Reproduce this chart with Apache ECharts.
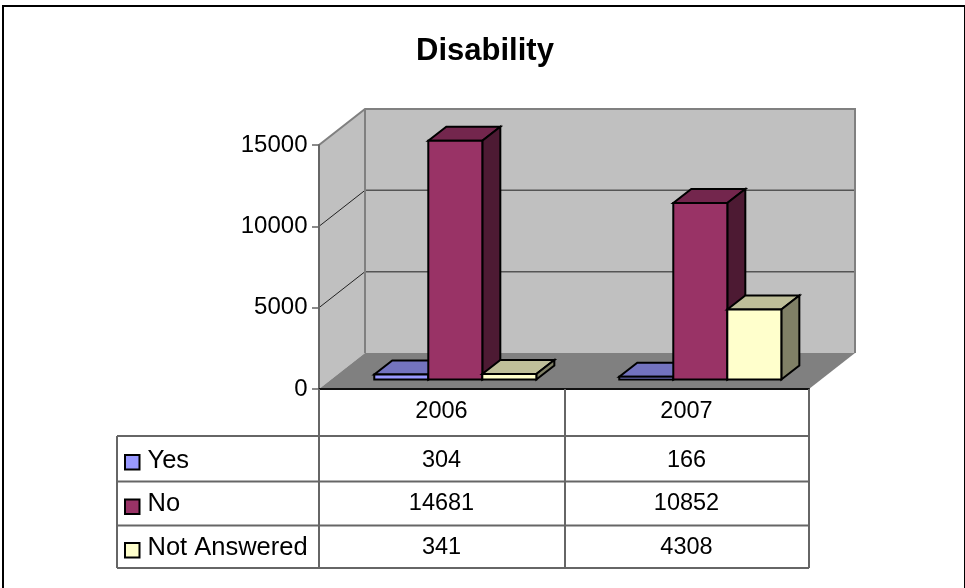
<!DOCTYPE html>
<html>
<head>
<meta charset="utf-8">
<style>
  html, body { margin: 0; padding: 0; background: #fff; }
  #chart { width: 965px; height: 588px; }
</style>
</head>
<body>
<div id="chart"></div>
<script src="https://cdn.jsdelivr.net/npm/echarts@6/dist/echarts.min.js"></script>
<script>
const years = ['2006', '2007']
const names = ['Yes', 'No', 'Not Answered']
const yes = [304, 166]
const no = [14681, 10852]
const notAnswered = [341, 4308]
const ticks = [0, 5000, 10000, 15000]

const fontFamily = '"Liberation Sans", Arial, sans-serif'
const fronts = ['#9999FF', '#993366', '#FFFFCC']
const tops = ['#7373BF', '#73264D', '#BFBF99']
const sides = ['#4D4D80', '#4D1A33', '#808066']

const wallDx = 46
const wallDy = -36
const barDx = 18
const barDy = -14

function poly(points, fill, stroke, lineWidth) {
  return {
    type: 'polygon',
    shape: { points: points },
    style: { fill: fill, stroke: stroke, lineWidth: lineWidth || 0, lineJoin: 'miter' }
  }
}

function line(points, color, width) {
  return {
    type: 'polyline',
    shape: { points: points },
    style: { fill: null, stroke: color, lineWidth: width }
  }
}

// back wall, side wall and floor, hung on the value axis
function renderWalls(params, api) {
  const band = api.size([1, 0])[0]
  const left = api.coord([0, 0])[0] - band / 2
  const right = left + band * years.length
  const y0 = api.coord([0, 0])[1]
  const yTop = api.coord([0, ticks[ticks.length - 1]])[1]
  const children = [
    poly([[left, y0], [left + wallDx, y0 + wallDy], [left + wallDx, yTop + wallDy], [left, yTop]], '#C0C0C0'),
    poly([[left + wallDx, y0 + wallDy], [right + wallDx, y0 + wallDy], [right + wallDx, yTop + wallDy], [left + wallDx, yTop + wallDy]], '#C0C0C0'),
    poly([[left, y0], [left + wallDx, y0 + wallDy], [right + wallDx, y0 + wallDy], [right, y0]], '#808080')
  ]
  for (let i = 1; i < ticks.length - 1; i++) {
    const y = api.coord([0, ticks[i]])[1]
    children.push(line([[left, y], [left + wallDx, y + wallDy]], '#222', 1))
    children.push(line([[left + wallDx, y + wallDy], [right + wallDx, y + wallDy]], '#555', 1.5))
  }
  children.push(line([[left, yTop], [left + wallDx, yTop + wallDy], [right + wallDx, yTop + wallDy], [right + wallDx, y0 + wallDy]], '#808080', 2))
  children.push(line([[left + wallDx, yTop + wallDy], [left + wallDx, y0 + wallDy]], '#808080', 2))
  return { type: 'group', children: children }
}

function renderBar(seriesIndex) {
  return function (params, api) {
    const cat = api.value(0)
    const band = api.size([1, 0])[0]
    const w = band * 0.2205
    const base = api.coord([cat, 0])
    const top = api.coord([cat, api.value(1)])
    const x0 = base[0] + 13.8 + (seriesIndex - 1.5) * w
    const x1 = x0 + w
    const y0 = base[1] - 9.5
    const y1 = top[1] - 9.5
    return {
      type: 'group',
      children: [
        poly([[x0, y1], [x1, y1], [x1 + barDx, y1 + barDy], [x0 + barDx, y1 + barDy]], tops[seriesIndex], '#000', 2),
        poly([[x1, y0], [x1 + barDx, y0 + barDy], [x1 + barDx, y1 + barDy], [x1, y1]], sides[seriesIndex], '#000', 2),
        poly([[x0, y0], [x1, y0], [x1, y1], [x0, y1]], fronts[seriesIndex], '#000', 2)
      ]
    }
  }
}

function barSeries(values, i) {
  return {
    name: names[i],
    type: 'custom',
    z: 3 + i,
    clip: false,
    renderItem: renderBar(i),
    data: values.map((v, c) => [c, v])
  }
}

const chart = echarts.init(document.getElementById('chart'), null, { renderer: 'canvas' })

chart.setOption({
  animation: false,
  backgroundColor: '#fff',
  textStyle: { fontFamily: fontFamily },
  title: {
    text: 'Disability',
    left: 480,
    top: 31,
    textAlign: 'center',
    textStyle: { fontFamily: fontFamily, fontSize: 31, fontWeight: 'bold', color: '#000' }
  },
  grid: { left: 319, right: 156, top: 145, bottom: 199 },
  xAxis: {
    type: 'category',
    data: years,
    z: 8,
    axisLine: { lineStyle: { color: '#111', width: 2 } },
    axisTick: { show: false },
    axisLabel: { interval: 0, color: '#000', fontSize: 23.5, margin: 11, fontFamily: fontFamily }
  },
  yAxis: {
    type: 'value',
    min: 0,
    max: 15000,
    interval: 5000,
    z: 8,
    axisLine: { show: true, lineStyle: { color: '#666', width: 2 } },
    axisTick: { show: true, length: 7, lineStyle: { color: '#666', width: 1.5 } },
    axisLabel: { color: '#000', fontSize: 24, margin: 11.5, padding: [7, 0, 0, 0], fontFamily: fontFamily, formatter: v => String(v) },
    splitLine: { show: false }
  },
  series: [
    { type: 'custom', name: 'walls', z: 1, clip: false, silent: true, renderItem: renderWalls, data: [[0, 0]] },
    barSeries(yes, 0),
    barSeries(no, 1),
    barSeries(notAnswered, 2)
  ]
})

// data table under the plot
const tableLeft = 117
const axisX = 319
const midX = 565
const tableRight = 809
const headTop = 389
const rowLines = [436, 481.5, 525.5, 568]
const rowText = [460.5, 504, 547.5]
const keyTop = [455, 499.5, 543]
const rows = [yes, no, notAnswered]
const tableColor = '#666'

function tableLine(x1, y1, x2, y2) {
  return { type: 'line', z: 9, shape: { x1: x1, y1: y1, x2: x2, y2: y2 }, style: { stroke: tableColor, lineWidth: 2 } }
}

const elements = [
  { type: 'rect', z: 10, shape: { x: 3, y: 6, width: 962, height: 600 }, style: { fill: null, stroke: '#000', lineWidth: 2 } },
  tableLine(axisX, headTop, axisX, rowLines[3]),
  tableLine(midX, headTop, midX, rowLines[3]),
  tableLine(tableRight, headTop, tableRight, rowLines[3]),
  tableLine(tableLeft, rowLines[0], tableLeft, rowLines[3])
]
rowLines.forEach(y => elements.push(tableLine(tableLeft, y, tableRight, y)))

rows.forEach((values, r) => {
  elements.push({
    type: 'rect', z: 9,
    shape: { x: 125, y: keyTop[r], width: 14.5, height: 14.5 },
    style: { fill: fronts[r], stroke: '#000', lineWidth: 2 }
  })
  elements.push({
    type: 'text', z: 9, x: 147.5, y: rowText[r],
    style: { text: names[r], fill: '#000', font: '25.5px ' + fontFamily, verticalAlign: 'middle' }
  })
  values.forEach((v, c) => {
    elements.push({
      type: 'text', z: 9,
      x: chart.convertToPixel({ xAxisIndex: 0 }, c),
      y: rowText[r],
      style: { text: String(v), fill: '#000', font: '23.5px ' + fontFamily, align: 'center', verticalAlign: 'middle' }
    })
  })
})

chart.setOption({ graphic: { elements: elements } })
</script>
</body>
</html>
